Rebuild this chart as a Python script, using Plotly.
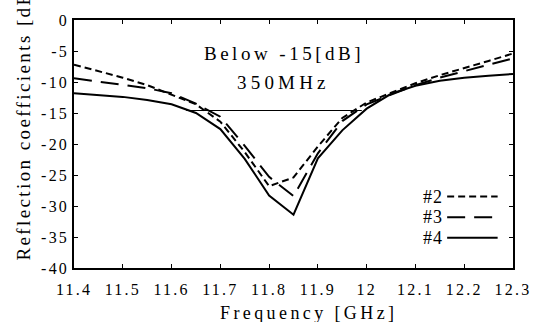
import plotly.graph_objects as go

# ---- data ----
freq = [11.4, 11.45, 11.5, 11.55, 11.6, 11.65, 11.7, 11.75, 11.8, 11.85,
        11.9, 11.95, 12.0, 12.05, 12.1, 12.15, 12.2, 12.25, 12.3]
s2 = [-7.2, -8.2, -9.3, -10.5, -12.0, -13.6, -16.4, -21.3, -26.8, -25.4,
      -20.4, -15.8, -13.3, -11.7, -10.2, -8.9, -7.8, -6.6, -5.4]
s3 = [-9.4, -9.9, -10.4, -11.0, -11.8, -13.5, -15.6, -20.3, -25.3, -28.4,
      -21.5, -16.3, -13.6, -12.0, -10.5, -9.3, -8.2, -7.2, -6.2]
s4 = [-11.8, -12.1, -12.4, -12.9, -13.6, -15.0, -17.6, -22.4, -28.3, -31.4,
      -22.3, -17.8, -14.3, -11.9, -10.6, -9.8, -9.3, -9.0, -8.7]
band_x = [11.63, 11.99]
band_y = [-14.6, -14.6]

series_names = ["#2", "#3", "#4"]
x_tickvals = [11.4, 11.5, 11.6, 11.7, 11.8, 11.9, 12.0, 12.1, 12.2, 12.3]
x_ticktext = ["11.4", "11.5", "11.6", "11.7", "11.8", "11.9", "12", "12.1", "12.2", "12.3"]
y_tickvals = [0, -5, -10, -15, -20, -25, -30, -35, -40]
y_ticktext = ["0", "-5", "-10", "-15", "-20", "-25", "-30", "-35", "-40"]

SERIF = "Liberation Serif"
dashes = ["7px,4px", "18px,9px", "solid"]


def ls(t, sp):
    return '<span style="letter-spacing:%spx">%s</span>' % (sp, t)


fig = go.Figure()
for name, ys, d in zip(series_names, [s2, s3, s4], dashes):
    fig.add_trace(go.Scatter(x=freq, y=ys, mode="lines", name=name,
                             line=dict(color="black", width=2, dash=d),
                             showlegend=False))
fig.add_trace(go.Scatter(x=band_x, y=band_y, mode="lines",
                         line=dict(color="black", width=1.2), showlegend=False))

# manual legend (text left, line sample right)
leg_y = [0.288, 0.205, 0.122]
for name, y, d in zip(series_names, leg_y, dashes):
    fig.add_annotation(xref="paper", yref="paper", x=0.845, y=y,
                       text=ls(name, 1), showarrow=False, xanchor="right",
                       yanchor="middle", font=dict(family=SERIF, size=18, color="black"))
    fig.add_shape(type="line", xref="paper", yref="paper", x0=0.85, x1=0.965,
                  y0=y, y1=y, line=dict(color="black", width=2.2 if d == "solid" else 2, dash=d))

fig.add_annotation(xref="paper", yref="paper", x=0.478, y=0.915,
                   text=ls("Below -15[dB]", 3.5), showarrow=False,
                   font=dict(family=SERIF, size=19, color="black"))
fig.add_annotation(xref="paper", yref="paper", x=0.478, y=0.8,
                   text=ls("350MHz", 4.2), showarrow=False,
                   font=dict(family=SERIF, size=19, color="black"))

# axis titles
fig.add_annotation(xref="paper", yref="paper", x=0.535, y=-0.135,
                   text=ls("Frequency [GHz]", 3.4), showarrow=False,
                   xanchor="center", yanchor="top",
                   font=dict(family=SERIF, size=18, color="black"))
fig.add_annotation(xref="paper", yref="paper", x=-0.116, y=0.02,
                   text=ls("Reflection coefficients [dB]", 2.4), showarrow=False,
                   textangle=-90, xanchor="center", yanchor="bottom",
                   font=dict(family=SERIF, size=19, color="black"))

axis_common = dict(showline=True, linecolor="black", linewidth=1.5, mirror="allticks",
                   ticks="inside", ticklen=4, tickwidth=1, tickcolor="black",
                   showgrid=False, zeroline=False,
                   tickfont=dict(family=SERIF, size=16, color="black"))
fig.update_xaxes(range=[11.4, 12.3], tickvals=x_tickvals,
                 ticktext=[ls(t, 2.2) for t in x_ticktext],
                 ticklabelstandoff=6, **axis_common)
fig.update_yaxes(range=[-40, 0], tickvals=y_tickvals,
                 ticktext=[ls(t, 2.2) for t in y_ticktext],
                 ticklabelstandoff=0, **axis_common)

fig.update_layout(width=543, height=322, margin=dict(l=74, r=21, t=16, b=54),
                  plot_bgcolor="white", paper_bgcolor="white", showlegend=False,
                  font=dict(family=SERIF, color="black"))

fig.write_html("out.html", config={"displayModeBar": False},
               post_script="document.body.style.margin='0px';")
